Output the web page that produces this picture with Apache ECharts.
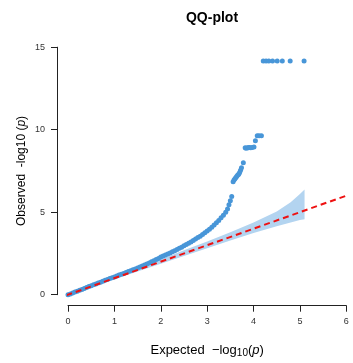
<!DOCTYPE html>
<html>
<head>
<meta charset="utf-8">
<script src="https://cdn.jsdelivr.net/npm/echarts@6/dist/echarts.min.js"></script>
<style>
  html, body { margin: 0; padding: 0; background: #fff; }
  #qq { width: 353px; height: 363px; }
</style>
</head>
<body>
<div id="qq"></div>
<script>
  // expected vs observed -log10(p)
  var expected = [
    0.00, 0.05, 0.10, 0.15, 0.20, 0.25, 0.30, 0.35, 0.40, 0.45,
    0.50, 0.55, 0.60, 0.65, 0.70, 0.75, 0.80, 0.85, 0.90, 0.95,
    1.00, 1.05, 1.10, 1.15, 1.20, 1.25, 1.30, 1.35, 1.40, 1.45,
    1.50, 1.55, 1.60, 1.65, 1.70, 1.75, 1.80, 1.85, 1.90, 1.95,
    2.00, 2.05, 2.10, 2.15, 2.20, 2.25, 2.30, 2.35, 2.40, 2.45,
    2.50, 2.55, 2.60, 2.65, 2.70, 2.75, 2.80, 2.85, 2.90, 2.95,
    3.00, 3.05, 3.10, 3.15, 3.20, 3.25, 3.30, 3.35, 3.40, 3.44,
    3.47, 3.50, 3.53,
    3.56, 3.58, 3.60, 3.62, 3.64, 3.66, 3.68, 3.70, 3.72, 3.74, 3.78,
    3.82, 3.84, 3.87, 3.89, 3.91, 3.94, 3.97, 4.01,
    4.04,
    4.08, 4.12, 4.17,
    4.21, 4.27, 4.33, 4.41, 4.51, 4.62, 4.79, 5.09
  ];
  var observed = [
    0.00, 0.05, 0.10, 0.16, 0.21, 0.27, 0.32, 0.38, 0.43, 0.49,
    0.54, 0.60, 0.65, 0.71, 0.76, 0.82, 0.87, 0.92, 0.98, 1.03,
    1.08, 1.13, 1.19, 1.24, 1.29, 1.34, 1.40, 1.45, 1.51, 1.56,
    1.62, 1.68, 1.74, 1.80, 1.86, 1.92, 1.99, 2.06, 2.13, 2.20,
    2.28, 2.34, 2.40, 2.47, 2.53, 2.60, 2.67, 2.74, 2.81, 2.88,
    2.96, 3.04, 3.12, 3.20, 3.28, 3.37, 3.46, 3.55, 3.65, 3.75,
    3.86, 3.97, 4.09, 4.22, 4.36, 4.50, 4.66, 4.82, 5.00, 5.20,
    5.45, 5.70, 5.95,
    6.85, 6.95, 7.02, 7.10, 7.18, 7.25, 7.30, 7.40, 7.55, 7.70, 8.00,
    8.90, 8.88, 8.90, 8.90, 8.92, 8.90, 8.92, 8.95,
    9.33,
    9.64, 9.64, 9.64,
    14.16, 14.16, 14.16, 14.16, 14.16, 14.16, 14.16, 14.16
  ];

  // confidence band
  var bandX     = [0.00,  1.00, 2.00, 2.50, 3.00, 3.50, 4.00, 4.50, 4.80, 5.00, 5.10];
  var bandLower = [-0.05, 0.93, 1.87, 2.34, 2.81, 3.28, 3.74, 4.15, 4.38, 4.52, 4.58];
  var bandUpper = [0.05,  1.07, 2.15, 2.69, 3.22, 3.78, 4.38, 5.05, 5.60, 6.10, 6.38];

  // y = x reference line ends
  var refLine = [-0.24, 6.24];

  var xTicks = [0, 6, 1];
  var yTicks = [0, 15, 5];

  var pts = [];
  for (var i = 0; i < expected.length; i++) {
    pts.push([expected[i], observed[i]]);
  }

  var chart = echarts.init(document.getElementById('qq'));
  chart.setOption({
    animation: false,
    textStyle: { fontFamily: 'Liberation Sans, Arial, sans-serif' },
    title: {
      text: 'QQ-plot',
      left: 207,
      top: 6,
      textAlign: 'center',
      textStyle: { fontSize: 14, fontWeight: 'bold', color: '#000' }
    },
    grid: { left: 68, top: 47.2, width: 278.3, height: 247.5, outerBoundsMode: 'none', containLabel: false },
    xAxis: {
      type: 'value',
      min: xTicks[0], max: xTicks[1], interval: xTicks[2],
      offset: 11,
      splitLine: { show: false },
      axisLine: { onZero: false, lineStyle: { color: '#222', width: 1 } },
      axisTick: { length: 6, lineStyle: { color: '#222' } },
      axisLabel: { fontSize: 9, color: '#333', margin: 11 },
      name: '{a|Expected  \u2212log}{s|10}{a|(}{i|p}{a|)}',
      nameLocation: 'middle',
      nameGap: 36,
      nameMoveOverlap: false,
      nameTextStyle: {
        rich: {
          a: { fontSize: 13, color: '#000' },
          s: { fontSize: 10, color: '#000', padding: [7, 0, 0, 0] },
          i: { fontSize: 13, color: '#000', fontStyle: 'italic' }
        }
      }
    },
    yAxis: {
      type: 'value',
      min: yTicks[0], max: yTicks[1], interval: yTicks[2],
      offset: 11,
      splitLine: { show: false },
      axisLine: { onZero: false, lineStyle: { color: '#222', width: 1 } },
      axisTick: { length: 6, lineStyle: { color: '#222' } },
      axisLabel: { fontSize: 9, color: '#333', margin: 12 },
      name: '{a|Observed  -log10 (}{i|p}{a|)}',
      nameLocation: 'middle',
      nameGap: 29,
      nameRotate: 90,
      nameMoveOverlap: false,
      nameTextStyle: {
        rich: {
          a: { fontSize: 12, color: '#000' },
          i: { fontSize: 12, color: '#000', fontStyle: 'italic' }
        }
      }
    },
    series: [
      {
        name: 'band',
        type: 'custom',
        data: [[bandX[0], bandLower[0]]],
        silent: true,
        renderItem: function (params, api) {
          var poly = [];
          for (var k = 0; k < bandX.length; k++) {
            poly.push(api.coord([bandX[k], bandUpper[k]]));
          }
          for (var m = bandX.length - 1; m >= 0; m--) {
            poly.push(api.coord([bandX[m], bandLower[m]]));
          }
          return { type: 'polygon', shape: { points: poly }, style: { fill: '#b3d4f0' } };
        }
      },
      {
        name: 'ref',
        type: 'line',
        data: [[refLine[0], refLine[0]], [refLine[1], refLine[1]]],
        symbol: 'none',
        clip: false,
        lineStyle: { color: '#ee1111', width: 2, type: [6, 4] },
        silent: true
      },
      {
        name: 'obs',
        type: 'scatter',
        data: pts,
        symbolSize: 5,
        clip: false,
        itemStyle: { color: '#4896d8', opacity: 1 },
        silent: true
      }
    ]
  });
</script>
</body>
</html>
